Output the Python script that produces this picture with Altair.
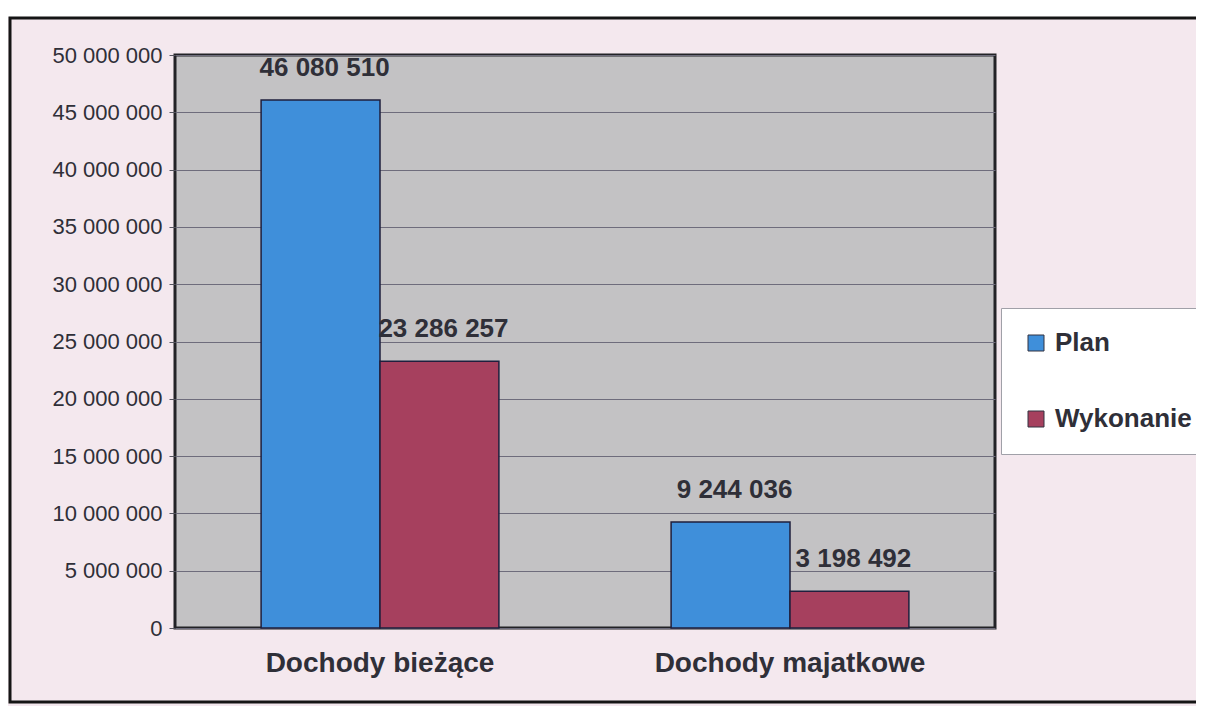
import altair as alt
import pandas as pd

categories = ["Dochody bieżące", "Dochody majatkowe"]
series = ["Plan", "Wykonanie"]
plan = [46080510, 9244036]
wykonanie = [23286257, 3198492]
y_ticks = [0, 5000000, 10000000, 15000000, 20000000, 25000000,
           30000000, 35000000, 40000000, 45000000, 50000000]

rows = []
for i, c in enumerate(categories):
    rows.append({"kategoria": c, "seria": series[0], "kwota": plan[i]})
    rows.append({"kategoria": c, "seria": series[1], "kwota": wykonanie[i]})
df = pd.DataFrame(rows)

FONT = "Liberation Sans"
TXT = "#2f2f38"
W, H = 820, 573
SPACE_FMT = "replace(replace(format({v}, ','), ',', ' '), ',', ' ')"

base = alt.Chart(df).transform_calculate(
    label=SPACE_FMT.format(v="datum.kwota")
)

x_enc = alt.X(
    "kategoria:N", sort=categories,
    scale=alt.Scale(paddingInner=0.42, paddingOuter=0.21),
    axis=alt.Axis(title=None, labelAngle=0, ticks=False, domain=False,
                  labelFont=FONT, labelFontSize=28, labelFontWeight="bold",
                  labelColor=TXT, labelPadding=21, labelLimit=1000),
)
xoff = alt.XOffset("seria:N", sort=series,
                   scale=alt.Scale(paddingInner=0, paddingOuter=0))
y_enc = alt.Y(
    "kwota:Q",
    scale=alt.Scale(domain=[0, 50000000], nice=False),
    axis=alt.Axis(title=None, values=y_ticks,
                  labelExpr=SPACE_FMT.format(v="datum.value"),
                  labelFont=FONT, labelFontSize=22, labelColor=TXT,
                  labelPadding=7, tickSize=6, tickColor="#55555f",
                  domain=False, grid=True, gridColor="#6e6c7c", gridWidth=1),
)

bars = base.mark_bar(stroke="#1f1f3d", strokeWidth=1.5).encode(
    x=x_enc, xOffset=xoff, y=y_enc,
    color=alt.Color("seria:N", sort=series,
                    scale=alt.Scale(domain=series, range=["#3f8fda", "#a6405e"]),
                    legend=alt.Legend(title=None)),
)

labels = base.mark_text(
    baseline="bottom", dy=-19, dx=4, font=FONT, fontSize=26, fontWeight="bold",
    color=TXT,
).encode(x=alt.X("kategoria:N", sort=categories), xOffset=xoff,
         y=alt.Y("kwota:Q"), text="label:N")

deco = alt.Data(values=[{"f": 1}])
top_strip = alt.Chart(deco).mark_rect(fill="#ffffff").encode(
    x=alt.value(-170), x2=alt.value(1040), y=alt.value(-50), y2=alt.value(-38))
frame = alt.Chart(deco).mark_rect(
    fillOpacity=0, stroke="#151515", strokeWidth=3,
).encode(x=alt.value(-165), x2=alt.value(1040),
         y=alt.value(-37), y2=alt.value(647))

chart = alt.layer(top_strip, frame, bars, labels).properties(
    width=W, height=H,
    autosize=alt.AutoSizeParams(type="none"),
    padding={"left": 167, "top": 47, "right": 201, "bottom": 78},
    background="#f4e8ee",
).configure_view(
    fill="#c3c2c4", stroke="#222226", strokeWidth=3,
).configure_legend(
    orient="none", legendX=826, legendY=253,
    fillColor="#ffffff", strokeColor="#a0a0a8", padding=22,
    rowPadding=50, labelFont=FONT, labelFontSize=26, labelFontWeight="bold",
    labelColor=TXT, labelOffset=6, symbolType="square", symbolSize=256,
    symbolStrokeColor="#333340", symbolStrokeWidth=1, labelLimit=300,
)

chart.save("out.html", embed_options={"renderer": "svg", "actions": False})
